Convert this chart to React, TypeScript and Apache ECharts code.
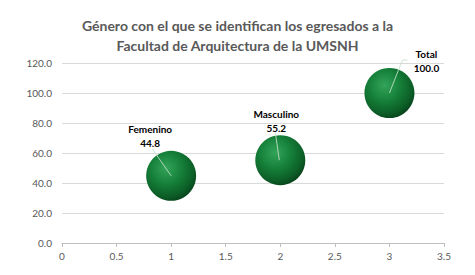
import React, { useEffect, useRef } from "react";
import * as echarts from "echarts";

const titleText = "Género con el que se identifican los egresados a la\nFacultad de Arquitectura de la UMSNH";
const names = ["Femenino", "Masculino", "Total"];
const xValues = [1, 2, 3];
const yValues = [44.8, 55.2, 100.0];
const labelOffsets = [
  [-21, -40],
  [-4, -39],
  [37, -32],
];
// leader line points relative to bubble centre
const leaderPts = [
  [[-19, -27], [0, 0]],
  [[-5, -28], [-1, 0]],
  [[18, -33], [13, -33], [0, 0]],
];

export default function App() {
  const ref = useRef<HTMLDivElement>(null);
  useEffect(() => {
    if (!ref.current) return;
    const chart = echarts.init(ref.current, null, { renderer: "svg" });
    const sphere = new echarts.graphic.RadialGradient(0.4, 0.35, 0.7, [
      { offset: 0, color: "#34a45a" },
      { offset: 0.45, color: "#158039" },
      { offset: 0.8, color: "#0c5e27" },
      { offset: 1, color: "#073f19" },
    ]);
    chart.setOption({
      animation: false,
      backgroundColor: "#ffffff",
      title: {
        text: titleText,
        left: "center",
        top: 10,
        textStyle: {
          fontFamily: "Lato",
          fontWeight: "bold",
          fontSize: 14,
          color: "#595959",
          lineHeight: 20,
        },
      },
      grid: { left: 62, right: 31, top: 63, bottom: 32 },
      xAxis: {
        type: "value",
        min: 0,
        max: 3.5,
        interval: 0.5,
        splitLine: { show: false },
        axisLine: { show: true, lineStyle: { color: "#bfbfbf" } },
        axisTick: { show: true, length: 4, lineStyle: { color: "#bfbfbf" } },
        axisLabel: {
          color: "#595959",
          fontSize: 10,
          fontFamily: "Lato",
          margin: 8,
        },
      },
      yAxis: {
        type: "value",
        min: 0,
        max: 120,
        interval: 20,
        axisLine: { show: false },
        axisTick: { show: false },
        splitLine: { lineStyle: { color: "#d9d9d9" } },
        axisLabel: {
          color: "#595959",
          fontSize: 10,
          fontFamily: "Lato",
          margin: 10,
          formatter: (v: number) => v.toFixed(1),
        },
      },
      series: [
        {
          type: "scatter",
          symbolSize: 50,
          data: xValues.map((x, i) => ({
            value: [x, yValues[i]],
            name: names[i],
          })),
          itemStyle: { color: sphere, opacity: 1 },
          label: {
            show: true,
            position: "inside",
            formatter: (p: any) => `${p.name}\n${p.value[1].toFixed(1)}`,
            color: "#000000",
            fontFamily: "Lato",
            fontWeight: "bold",
            fontSize: 10,
            lineHeight: 14,
          },
          labelLayout: (params: any) => {
            const o = labelOffsets[params.dataIndex];
            return { dx: o[0], dy: o[1] };
          },
        },
      ],
    });
    const lines = xValues.map((x, i) => {
      const c = chart.convertToPixel({ gridIndex: 0 }, [x, yValues[i]]) as number[];
      return {
        type: "polyline",
        z: 100,
        silent: true,
        shape: { points: leaderPts[i].map((p) => [c[0] + p[0], c[1] + p[1]]) },
        style: { stroke: "rgba(200,225,205,0.85)", lineWidth: 1, fill: null },
      };
    });
    chart.setOption({ graphic: lines });
    return () => chart.dispose();
  }, []);
  return (
    <div
      ref={ref}
      style={{ position: "absolute", left: 0, top: 0, width: 475, height: 275 }}
    />
  );
}
